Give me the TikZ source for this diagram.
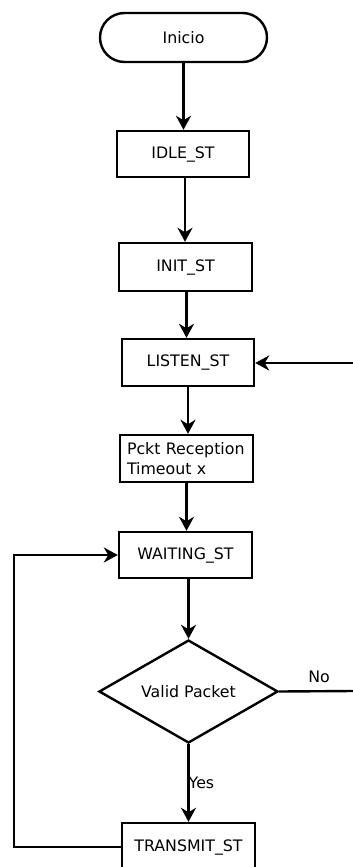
\documentclass[tikz,border=0pt]{standalone}
\usepackage{fontspec}
\setmainfont{DejaVu Sans}
\usetikzlibrary{shapes.misc,shapes.geometric,arrows.meta}
\begin{document}
\begin{tikzpicture}[x=1pt,y=-1pt,
  every node/.style={font=\fontsize{15.8}{19}\selectfont},
  flow/.style={line width=2.4pt},
  arr/.style={flow,-{Stealth[length=14pt,width=15pt,inset=4.5pt]}},
  term/.style={draw,line width=2.4pt,rounded rectangle,minimum width=167pt,minimum height=49pt,inner sep=0pt},
  state/.style={draw,line width=2.4pt,rectangle,minimum width=133pt,minimum height=47pt,inner sep=0pt},
  decision/.style={draw,line width=2.4pt,diamond,aspect=1.74,minimum width=179pt,minimum height=103pt,inner sep=0pt}]
\clip (0,0) rectangle (353,867);
\fill[white] (0,0) rectangle (353,867);

\node[term] (start) at (183.5,37.5) {Inicio};
\node[state,minimum width=132pt,minimum height=46pt] (idle) at (183,154) {IDLE\_ST};
\node[state,minimum height=48pt] (init) at (185.5,267) {INIT\_ST};
\node[state,minimum width=132pt] (listen) at (188,362.5) {LISTEN\_ST};
\node[state,text width=119pt,align=left,inner sep=0pt,font=\fontsize{15.8}{20}\selectfont] (pckt) at (186.5,458.5) {Pckt Reception\\Timeout x};
\node[state,minimum height=46pt] (wait) at (185.5,555) {WAITING\_ST};
\node[decision] (valid) at (188.5,691.5) {Valid Packet};
\node[state,minimum height=48pt] (tx) at (188.5,847) {TRANSMIT\_ST};

\coordinate (listenin) at (353,363);
\coordinate (noout) at (353,691);
\coordinate (loopx) at (14,0);

\draw[arr] (start.south) -- (start.south |- idle.north);
\draw[arr] (idle.south) ++(2,0) coordinate (s1) -- (s1 |- init.north);
\draw[arr] (init.south) ++(1,0) coordinate (s2) -- (s2 |- listen.north);
\draw[arr] (listen.south) -- (listen.south |- pckt.north);
\draw[arr] (pckt.south) -- (pckt.south |- wait.north);
\draw[arr] (wait.south) ++(3,0) coordinate (s3) -- (s3 |- valid.north);
\draw[arr] (valid.south) -- node[right,inner sep=0pt,xshift=-1pt] {Yes} (valid.south |- tx.north);
\draw[arr] (listenin) -- (listen.east |- listenin);
\draw[flow] (valid.east) -- (noout);
\node[inner sep=0pt] (nolabel) at (319,677) {No};
\draw[arr] (tx.west) -- (loopx |- tx.west) |- (wait.west);
\end{tikzpicture}
\end{document}
